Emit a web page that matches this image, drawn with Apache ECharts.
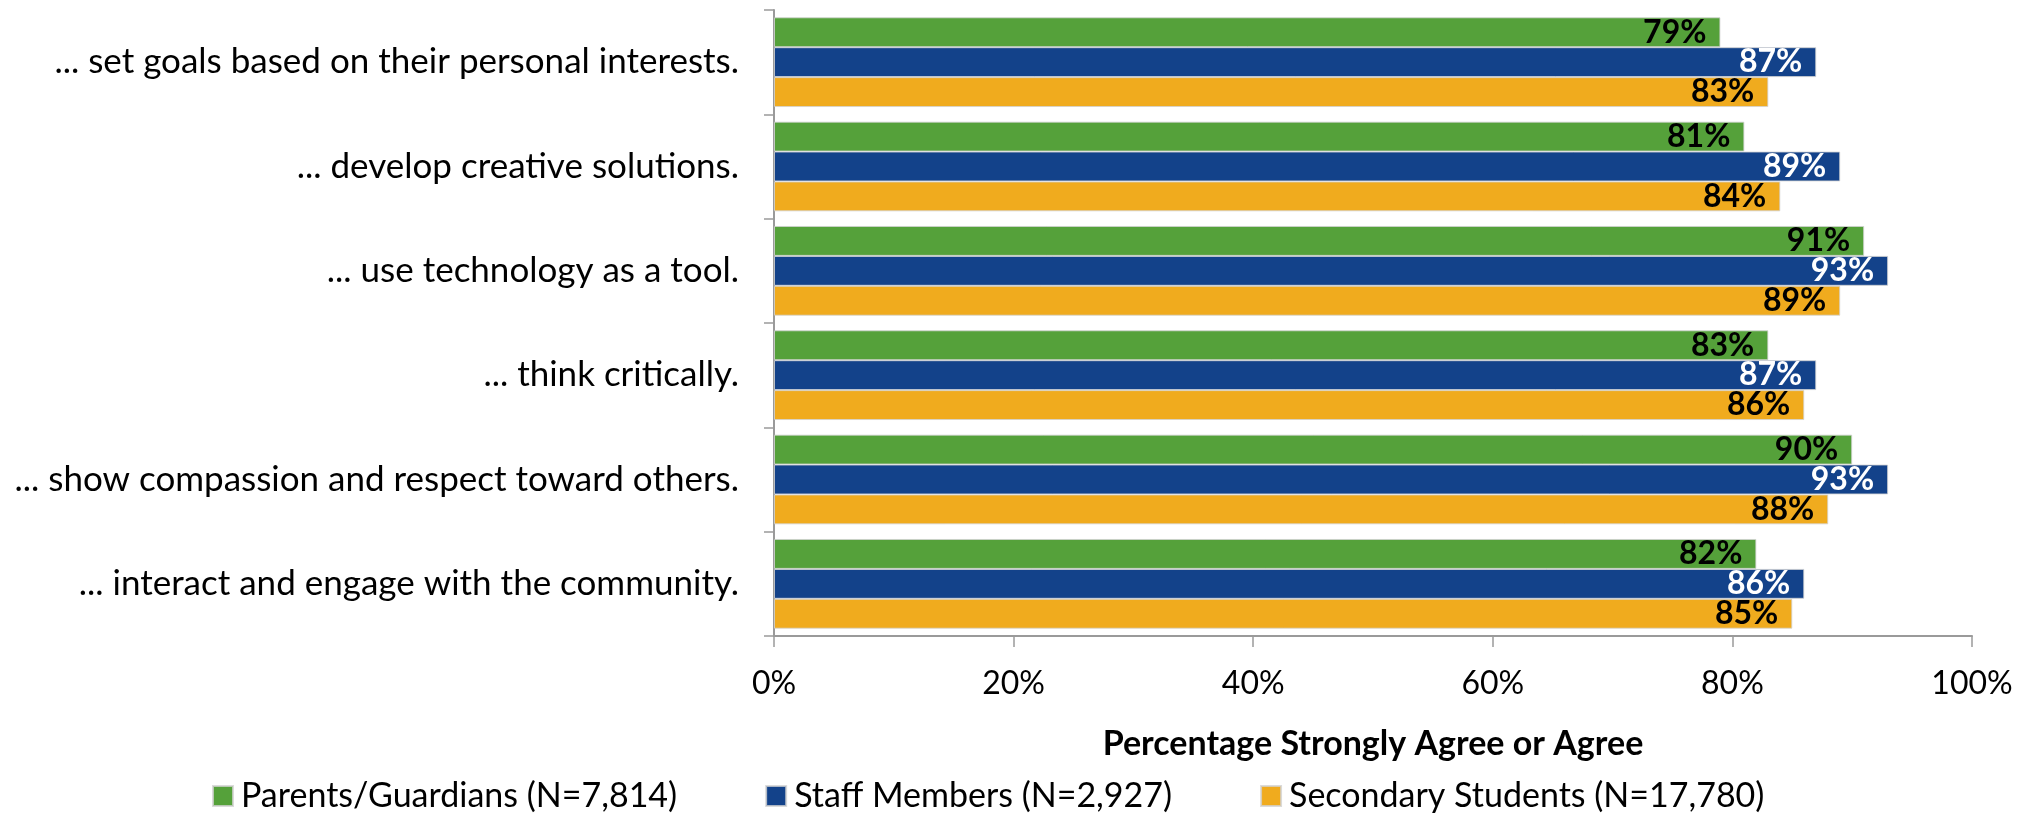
<!DOCTYPE html>
<html>
<head>
<meta charset="utf-8">
<script src="https://cdn.jsdelivr.net/npm/echarts@6/dist/echarts.min.js"></script>
<style>
  html, body { margin: 0; padding: 0; background: #fff; }
  #chart { width: 2033px; height: 815px; }
</style>
</head>
<body>
<div id="chart"></div>
<script>
// categories, top to bottom
const categories = [
  '... set goals based on their personal interests.',
  '... develop creative solutions.',
  '... use technology as a tool.',
  '... think critically.',
  '... show compassion and respect toward others.',
  '... interact and engage with the community.'
];
const seriesNames = [
  'Parents/Guardians (N=7,814)',
  'Staff Members (N=2,927)',
  'Secondary Students (N=17,780)'
];
const parents = [79, 81, 91, 83, 90, 82];
const staff = [87, 89, 93, 87, 93, 86];
const students = [83, 84, 89, 86, 88, 85];
const xTicks = [0, 20, 40, 60, 80, 100];

const FONT = 'Lato';
const colors = ['#55A13A', '#13428A', '#F0AB1E'];
const labelColors = ['#000', '#fff', '#000'];

const chart = echarts.init(document.getElementById('chart'));

function barSeries(name, data, i) {
  return {
    name: name,
    type: 'bar',
    data: data,
    barGap: '0%',
    barCategoryGap: '14%',
    itemStyle: { color: colors[i], borderColor: 'rgba(210,210,210,0.8)', borderWidth: 1 },
    label: {
      show: true,
      position: 'insideRight',
      distance: 14,
      formatter: '{c}%',
      fontFamily: FONT,
      fontWeight: 'bold',
      fontSize: 32,
      color: labelColors[i]
    }
  };
}

const option = {
  animation: false,
  grid: { left: 774, right: 61, top: 10, bottom: 179 },
  legend: {
    top: 774,
    left: 207,
    itemWidth: 20,
    itemHeight: 20,
    itemGap: 88,
    icon: 'rect',
    textStyle: { fontFamily: FONT, fontSize: 34, color: '#000', padding: [0, 0, 0, 3] },
    data: seriesNames
  },
  xAxis: {
    type: 'value',
    min: 0,
    max: 100,
    interval: 20,
    name: 'Percentage Strongly Agree or Agree',
    nameLocation: 'middle',
    nameGap: 91,
    nameTextStyle: { fontFamily: FONT, fontWeight: 'bold', fontSize: 34, color: '#000' },
    axisLine: { show: true, lineStyle: { color: '#9a9a9a', width: 2 } },
    axisTick: { show: true, length: 11, lineStyle: { color: '#9a9a9a', width: 1.5 } },
    splitLine: { show: false },
    axisLabel: {
      fontFamily: FONT,
      fontSize: 32,
      color: '#000',
      margin: 32,
      formatter: v => (xTicks.indexOf(v) >= 0 ? v + '%' : '')
    }
  },
  yAxis: {
    type: 'category',
    inverse: true,
    data: categories,
    axisLine: { show: true, lineStyle: { color: '#9a9a9a', width: 2 } },
    axisTick: { show: true, length: 10, lineStyle: { color: '#9a9a9a', width: 1.5 } },
    axisLabel: { fontFamily: FONT, fontSize: 35, color: '#000', margin: 35 }
  },
  series: [
    barSeries(seriesNames[0], parents, 0),
    barSeries(seriesNames[1], staff, 1),
    barSeries(seriesNames[2], students, 2)
  ]
};

chart.setOption(option);
</script>
</body>
</html>
